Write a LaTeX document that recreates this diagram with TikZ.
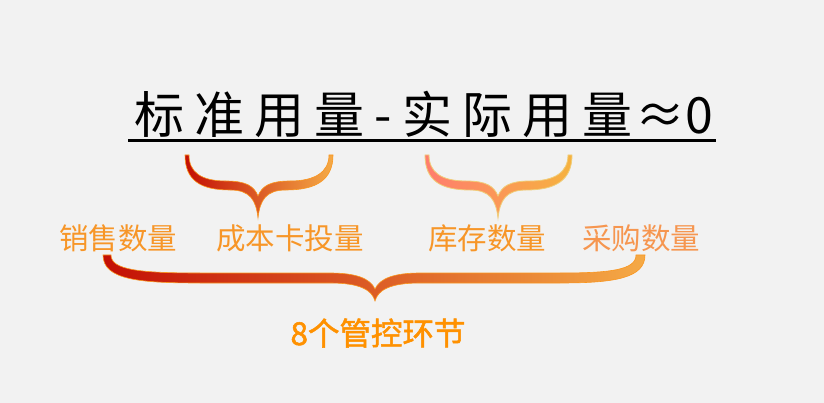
\documentclass[tikz,border=0pt]{standalone}
\usepackage{fontspec}
\newfontfamily\cjk{Noto Sans CJK SC}
\newfontfamily\cjkb{Noto Sans CJK SC}[FakeBold=1.6]
\definecolor{bg}{RGB}{242,242,242}
\definecolor{lab}{RGB}{247,150,40}
\definecolor{labp}{RGB}{246,150,80}
\definecolor{bottom}{RGB}{255,145,0}
\definecolor{dred}{RGB}{195,15,5}
\definecolor{lorange}{RGB}{245,170,70}
\definecolor{salmon}{RGB}{255,125,110}
\definecolor{lyellow}{RGB}{240,205,120}
\definecolor{brorange}{RGB}{250,150,30}
\tikzset{
  x=1pt, y=-1pt,
  label/.style={font=\cjk\fontsize{29.5}{30}\selectfont, text=lab, inner sep=0pt},
  bracea/.style={left color=dred, right color=lorange, draw=brorange, line width=0.6pt},
  braceb/.style={left color=salmon, right color=lorange!90!yellow, draw=lyellow, line width=0.8pt},
}
\begin{document}
\begin{tikzpicture}
\fill[bg] (0,0) rectangle (824,403);
\useasboundingbox (0,0) rectangle (824,403);

% title
\node[inner sep=0pt, font=\cjk\fontsize{50}{50}\selectfont\addfontfeature{LetterSpace=20}] (title) at (424,114) {标准用量-实际用量\kern3pt≈\kern0pt0};
\coordinate (ul1) at (128,141);
\coordinate (ul2) at (716,141);
\draw[line width=3pt] (ul1) -- (ul2);

% upper left brace
\path[bracea] (185,155) .. controls (185,180) and (200,190) .. (230,190)
  .. controls (250,190) and (256,200) .. (258,218)
  .. controls (260,200) and (266,190) .. (286,190)
  .. controls (316,190) and (333,180) .. (333,155)
  -- (329,155)
  .. controls (329,172) and (315,181) .. (290,181)
  .. controls (270,181) and (262,186) .. (258,196)
  .. controls (254,186) and (246,181) .. (226,181)
  .. controls (201,181) and (189,172) .. (189,155) -- cycle;

% upper right brace
\path[braceb] (425,155) .. controls (425,180) and (440,190) .. (470,190)
  .. controls (490,190) and (496,200) .. (498,218)
  .. controls (500,200) and (506,190) .. (526,190)
  .. controls (556,190) and (572,180) .. (572,155)
  -- (568,155)
  .. controls (568,172) and (555,181) .. (530,181)
  .. controls (510,181) and (502,186) .. (498,196)
  .. controls (494,186) and (486,181) .. (466,181)
  .. controls (441,181) and (429,172) .. (429,155) -- cycle;

% lower brace
\path[bracea] (103,255) .. controls (103,280) and (140,283) .. (200,283)
  -- (330,283) .. controls (360,283) and (372,290) .. (375,301)
  .. controls (378,290) and (390,283) .. (420,283)
  -- (560,283) .. controls (615,283) and (645,278) .. (645,255)
  -- (636,255)
  .. controls (636,270) and (610,273) .. (560,273)
  -- (420,273) .. controls (395,273) and (380,278) .. (375,289)
  .. controls (370,278) and (355,273) .. (330,273)
  -- (200,273) .. controls (140,273) and (111,270) .. (111,255) -- cycle;

% labels
\node[label] (l1) at (118,238) {销售数量};
\node[label] (l2) at (290,238) {成本卡投量};
\node[label] (l3) at (487,238) {库存数量};
\node[label, text=labp] (l4) at (641,238) {采购数量};

\node[inner sep=0pt, font=\cjkb\fontsize{31.5}{32}\selectfont, text=bottom] (b) at (378,333) {8个管控环节};
\end{tikzpicture}
\end{document}
